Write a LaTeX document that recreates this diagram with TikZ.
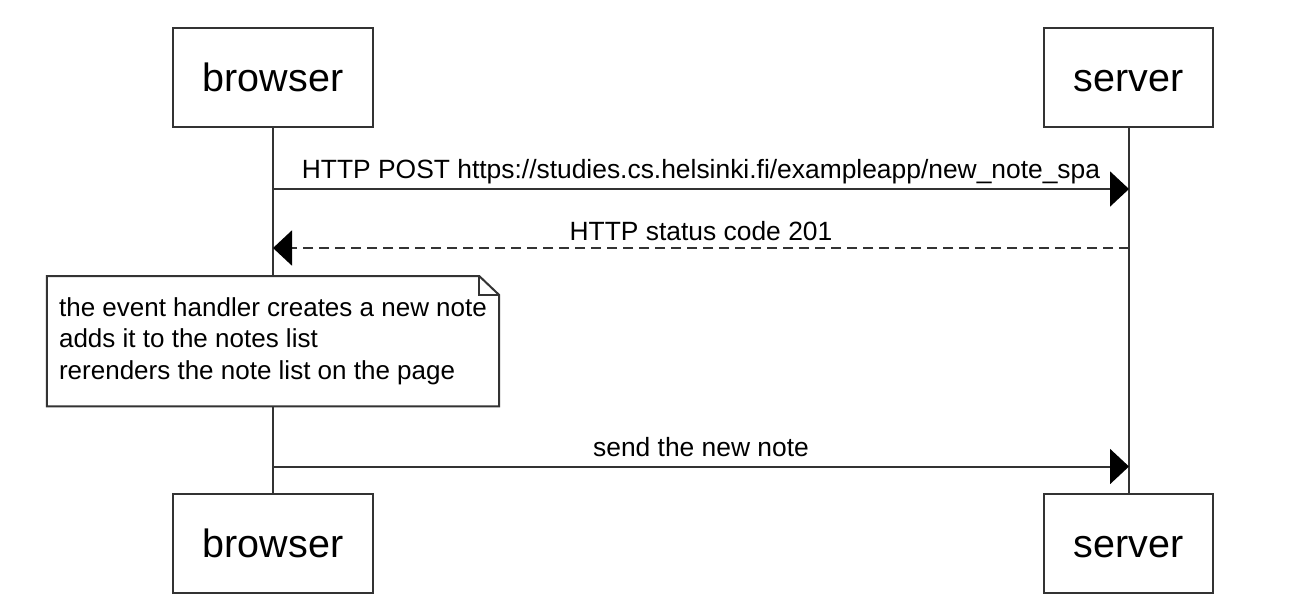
\documentclass[tikz,border=0pt]{standalone}
\usepackage{fontspec}
\setmainfont{Liberation Sans}
\usetikzlibrary{positioning,arrows.meta}
\definecolor{lineclr}{HTML}{333333}

\begin{document}
\begin{tikzpicture}[x=1pt,y=-1pt,
  actor/.style={draw=lineclr, line width=2pt, fill=white, inner xsep=30pt,
    minimum height=99pt, text height=28pt, text depth=0pt,
    font=\fontsize{39.5}{47}\selectfont},
  lifeline/.style={draw=lineclr, line width=2pt},
  msg/.style={draw=lineclr, line width=2pt,
    -{Triangle[length=19pt,width=35pt,color=black]}},
  reply/.style={msg, dash pattern=on 10pt off 6pt},
  msglabel/.style={font=\fontsize{26.4}{31.5}\selectfont, anchor=base},
  note/.style={fill=white, minimum height=130pt, minimum width=452pt,
    align=left, font=\fontsize{26}{31.5}\selectfont},
  notebox/.style={draw=lineclr, line width=2pt, line join=miter}]

  \useasboundingbox (0,0) rectangle (1294,606);

  % Define actors
  \node[actor] (browser top) at (273,77.5) {browser};
  \node[actor] (server top) at (1128.5,77.5) {server};
  \node[actor, below=365pt of browser top] (browser bottom) {browser};
  \node[actor, below=365pt of server top] (server bottom) {server};
  % Lifelines
  \draw[lifeline] (browser top) -- (browser bottom);
  \draw[lifeline] (server top) -- (server bottom);

  % Messages
  \coordinate (post b) at (273,189);
  \coordinate (post s) at (1129,189);
  \coordinate (status s) at (1129,248);
  \coordinate (status b) at (273,248);
  \coordinate (send b) at (273,466.5);
  \coordinate (send s) at (1129,466.5);
  \draw[msg] (post b) -- node[msglabel, yshift=10.5pt]
    {HTTP POST https://studies.cs.helsinki.fi/exampleapp/new\_note\_spa} (post s);
  \draw[reply] (status s) -- node[msglabel, yshift=7.5pt] {HTTP status code 201} (status b);

  % Note over the browser
  \node[note, below=148pt of browser top] (handler note)
    {the event handler creates a new note\\adds it to the notes list\\rerenders the note list on the page};
  \draw[notebox] (handler note.north west) -- ([xshift=-20pt]handler note.north east)
    -- ([yshift=-19pt]handler note.north east) -- (handler note.south east)
    -- (handler note.south west) -- cycle;
  \draw[notebox] ([xshift=-20pt]handler note.north east) |- ([yshift=-19pt]handler note.north east);

  \draw[msg] (send b) -- node[msglabel, yshift=10.5pt] {send the new note} (send s);

\end{tikzpicture}
\end{document}
